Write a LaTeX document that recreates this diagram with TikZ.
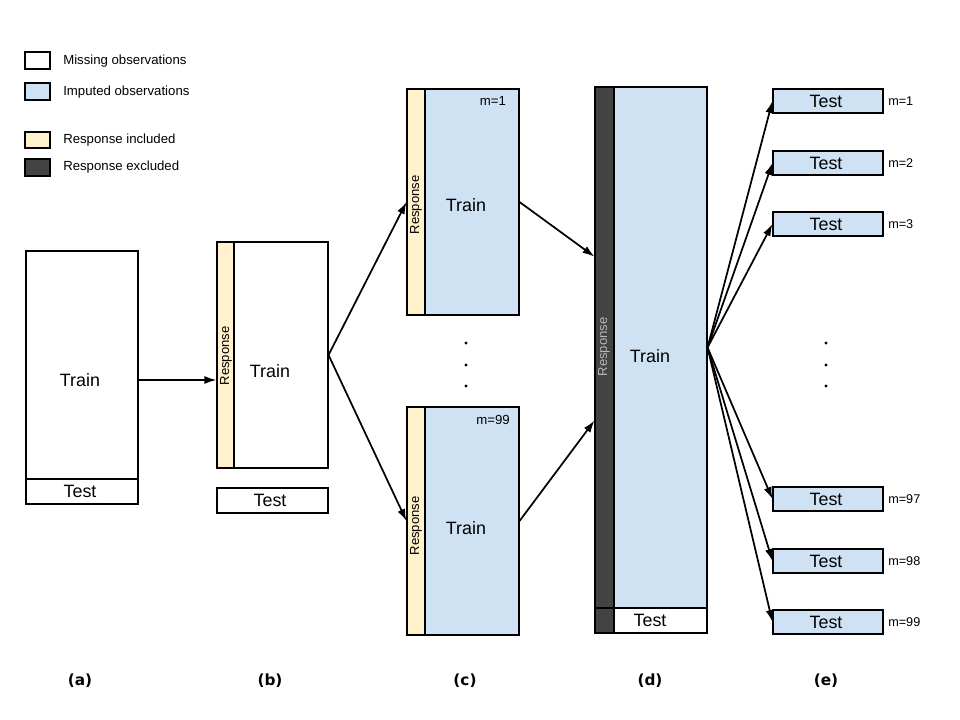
\documentclass[tikz,border=0pt]{standalone}
\usepackage{fontspec}
\setmainfont{Liberation Sans}
\newfontfamily\labfont{DejaVu Sans}
\usetikzlibrary{fit,arrows.meta,calc}
\definecolor{imp}{HTML}{CFE2F3}
\definecolor{resp}{HTML}{FFF2CC}
\definecolor{dark}{HTML}{434343}
\definecolor{greytxt}{HTML}{B7B7B7}
\begin{document}
\begin{tikzpicture}[x=0.75pt,y=-0.75pt,
  box/.style={draw=black,line width=0.8pt,inner sep=0pt},
  miss/.style={box,fill=white},
  impb/.style={box,fill=imp},
  respb/.style={box,fill=resp},
  darkb/.style={box,fill=dark},
  big/.style={font=\fontsize{13.4pt}{15pt}\selectfont,inner sep=0pt},
  small/.style={font=\fontsize{9.9pt}{11pt}\selectfont,inner sep=0pt},
  mlab/.style={font=\fontsize{9.5pt}{11pt}\selectfont,inner sep=0pt,anchor=west},
  rot/.style={font=\fontsize{9.8pt}{11pt}\selectfont,inner sep=0pt,rotate=90},
  panel/.style={font=\labfont\bfseries\fontsize{11.5pt}{13pt}\selectfont,inner sep=0pt},
  arr/.style={line width=1.3pt,-{Latex[length=9pt,width=6pt]}},
  dot/.style={circle,fill=black,inner sep=0pt,minimum size=2.4pt}]
\useasboundingbox (0,0) rectangle (960,720);
% legend
\node[miss,fit={(25,52) (50,69)}] (l1) {};
\node[impb,fit={(25,83) (50,100)}] (l2) {};
\node[respb,fit={(25,132) (50,148)}] (l3) {};
\node[darkb,fit={(25,159) (50,176)}] (l4) {};
\node[small,anchor=west] (t1) at (63,61) {Missing observations};
\node[small,anchor=west] (t2) at (63,92) {Imputed observations};
\node[small,anchor=west] (t3) at (63,140) {Response included};
\node[small,anchor=west] (t4) at (63,167) {Response excluded};
% (a)
\node[miss,fit={(26,251) (138,479)}] (aTrain) {};
\node[miss,fit={(26,479) (138,504)}] (aTest) {};
\node[big] (aTxt) at (80,380) {Train};
\node[big] (aTestTxt) at (80,491) {Test};
% (b)
\node[respb,fit={(217,242) (234,468)}] (bResp) {};
\node[miss,fit={(234,242) (328,468)}] (bTrain) {};
\node[miss,fit={(217,488) (328,513)}] (bTest) {};
\node[rot] (bRespTxt) at (226,356) {Response};
\node[big] (bTxt) at (270,371) {Train};
\node[big] (bTestTxt) at (270,500) {Test};
% (c)
\node[respb,fit={(407,89) (425,315)}] (cResp1) {};
\node[impb,fit={(425,89) (519,315)}] (cTrain1) {};
\node[rot] (cRespTxt1) at (416,205) {Response};
\node[big] (cTxt1) at (466,205) {Train};
\node[small] (cm1) at (493,101) {m=1};
\node[respb,fit={(407,407) (425,635)}] (cResp2) {};
\node[impb,fit={(425,407) (519,635)}] (cTrain2) {};
\node[rot] (cRespTxt2) at (416,526) {Response};
\node[big] (cTxt2) at (466,528) {Train};
\node[small] (cm2) at (493,420) {m=99};
\node[dot] (cd1) at (466,343) {};
\node[dot] (cd2) at (466,365) {};
\node[dot] (cd3) at (466,386) {};
% (d)
\node[darkb,fit={(595,87) (614,608)}] (dResp) {};
\node[darkb,fit={(595,608) (614,633)}] (dRespTest) {};
\node[impb,fit={(614,87) (707,608)}] (dTrain) {};
\node[miss,fit={(614,608) (707,633)}] (dTest) {};
\node[rot,text=greytxt] (dRespTxt) at (604,347) {Response};
\node[big] (dTxt) at (650,356) {Train};
\node[big] (dTestTxt) at (650,620) {Test};
\coordinate (dIn1) at ($(dResp.north west)!0.326!(dResp.south west)$);
\coordinate (dIn2) at ($(dResp.north west)!0.64!(dResp.south west)$);
% (e)
\foreach \n/\y/\m in {1/89/1,2/151/2,3/212/3,4/487/97,5/549/98,6/610/99}{
  \node[impb,fit={(773,\y) (883,\y+24)}] (e\n) {};
  \node[big] (eTxt\n) at (826,\y+12) {Test};
  \node[mlab] (em\n) at (888,\y+12) {m=\m};
}
\node[dot] (ed1) at (826,343) {};
\node[dot] (ed2) at (826,365) {};
\node[dot] (ed3) at (826,386) {};
% panel labels
\node[panel] (pa) at (80,681) {(a)};
\node[panel] (pb) at (270,681) {(b)};
\node[panel] (pc) at (465,681) {(c)};
\node[panel] (pd) at (650,681) {(d)};
\node[panel] (pe) at (826,681) {(e)};
% arrows
\draw[arr] (aTrain.east |- aTxt) -- (bResp.west |- aTxt);
\draw[arr] (bTrain.east) -- (cResp1.west);
\draw[arr] (bTrain.east) -- (cResp2.west);
\draw[arr] (cTrain1.east) -- (dIn1);
\draw[arr] (cTrain2.east) -- (dIn2);
\foreach \n in {1,...,6}{
  \draw[arr] (dTrain.east) -- (e\n.west);
}
\end{tikzpicture}
\end{document}
